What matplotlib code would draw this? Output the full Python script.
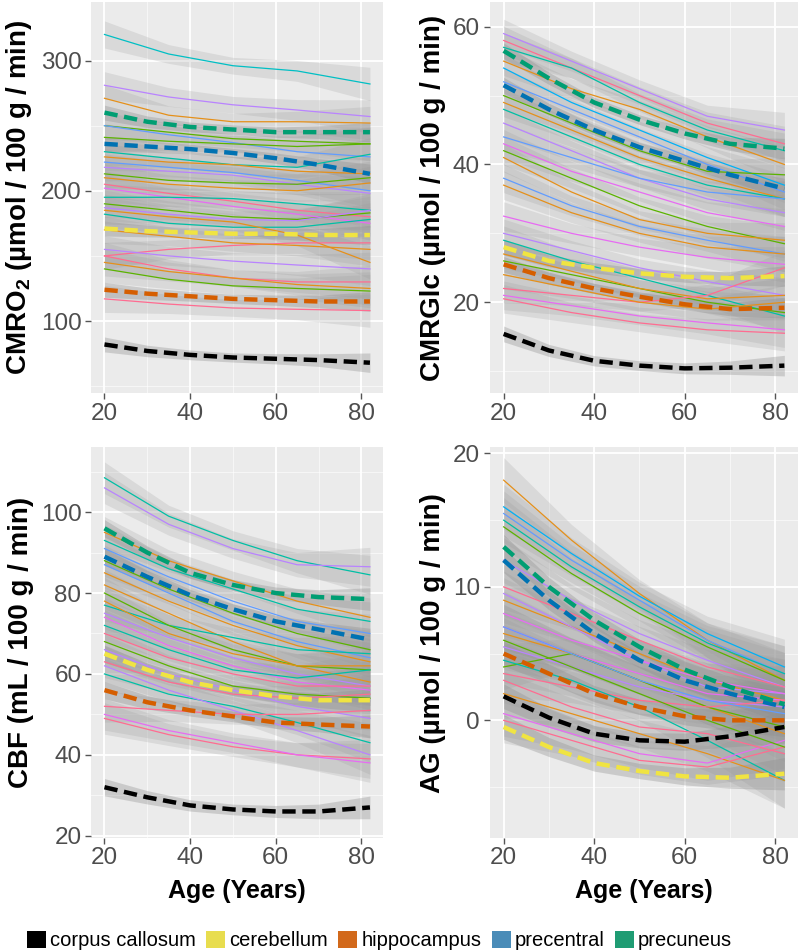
import numpy as np
import matplotlib
matplotlib.use("Agg")
import matplotlib.pyplot as plt
from matplotlib.patches import Patch
from matplotlib.ticker import MultipleLocator

plt.rcParams["font.family"] = ["Liberation Sans", "DejaVu Sans"]
plt.rcParams["mathtext.fontset"] = "custom"
plt.rcParams["mathtext.rm"] = "Liberation Sans"
plt.rcParams["mathtext.bf"] = "Liberation Sans:bold"

# ─── DATA ─────────────────────────────────────────────────────────────────────
REGIONS = ["corpus callosum", "cerebellum", "hippocampus", "precentral", "precuneus"]
AGES_DASH = [20, 30, 40, 50, 60, 70, 82]
AGES_THIN = [20, 35, 50, 65, 82]

# highlighted regions (dashed), values at AGES_DASH
CMRO2_DASHED = {
    "corpus callosum": [82, 77, 74, 72, 71, 70, 68],
    "cerebellum": [171, 169, 168, 167, 167, 166, 166],
    "hippocampus": [124, 121, 119, 117, 116, 115, 115],
    "precentral": [236, 234, 232, 229, 225, 220, 213],
    "precuneus": [260, 253, 249, 247, 245, 245, 245],
}
CMRGLC_DASHED = {
    "corpus callosum": [15.4, 13.0, 11.5, 10.8, 10.4, 10.5, 10.8],
    "cerebellum": [28.0, 26.0, 25.0, 24.2, 23.7, 23.5, 23.8],
    "hippocampus": [25.5, 23.5, 22.0, 20.8, 19.7, 19.0, 19.2],
    "precentral": [51.5, 48.0, 45.0, 42.5, 40.5, 38.5, 36.5],
    "precuneus": [56.5, 52.5, 49.0, 46.5, 44.5, 43.0, 42.3],
}
CBF_DASHED = {
    "corpus callosum": [32, 29.5, 27.5, 26.5, 26, 26, 27],
    "cerebellum": [65, 61, 58, 56, 54.5, 53.5, 53.5],
    "hippocampus": [56, 53, 51, 49.5, 48, 47.5, 47],
    "precentral": [89, 84, 79.5, 76, 73, 71, 68.5],
    "precuneus": [96, 90, 85, 82, 80, 79, 78.5],
}
AG_DASHED = {
    "corpus callosum": [1.8, 0.2, -1.0, -1.5, -1.6, -1.2, -0.5],
    "cerebellum": [-0.5, -2.0, -3.2, -3.8, -4.2, -4.3, -4.0],
    "hippocampus": [5.0, 3.5, 2.0, 1.0, 0.3, 0.0, 0.0],
    "precentral": [12.0, 9.0, 6.5, 4.5, 3.0, 2.0, 1.0],
    "precuneus": [13.0, 10.0, 7.5, 5.5, 3.8, 2.5, 1.2],
}

# other regions (thin), values at AGES_THIN
CMRO2_THIN = [
    [320, 305, 296, 292, 282], [281, 272, 266, 262, 257], [271, 258, 253, 253, 252],
    [250, 245, 240, 238, 236], [250, 243, 237, 230, 226], [241, 238, 236, 234, 236],
    [230, 225, 220, 218, 228], [226, 222, 220, 215, 213], [222, 218, 214, 208, 200],
    [218, 215, 212, 205, 198], [213, 208, 206, 205, 210], [210, 205, 202, 200, 206],
    [205, 198, 192, 185, 180], [202, 195, 188, 182, 175], [195, 195, 194, 190, 185],
    [190, 185, 180, 178, 183], [187, 182, 178, 177, 185], [182, 175, 172, 172, 178],
    [185, 180, 176, 166, 145], [150, 155, 158, 160, 160], [155, 150, 146, 143, 140],
    [150, 140, 133, 130, 130], [145, 138, 133, 128, 125], [140, 132, 127, 125, 123],
    [117, 113, 110, 109, 108], [170, 165, 160, 158, 155],
]
CMRO2_THIN_COLORS = "cpogbgtobpgoPmtgptoPpPogPo"

CMRGLC_THIN = [
    [59, 55, 51, 47, 45], [58, 54, 50, 46, 43], [57, 54, 49, 45, 42],
    [55, 51, 48, 44, 40], [54, 49, 45, 41, 37], [52, 48, 44, 40, 36],
    [50, 46, 42, 39, 38.5], [49, 45, 41, 38, 35], [48, 44, 40, 37, 35],
    [46, 42, 38, 35, 33], [44, 41, 38, 36, 35], [43, 39, 36, 33, 31],
    [42, 38, 34, 31, 28.5], [41, 36, 32, 30, 29], [38, 34, 31, 29, 27],
    [37, 33, 30, 28, 27], [32.5, 30, 28, 26.5, 25.5], [30, 27.5, 25, 23, 21],
    [29, 26, 23.5, 21, 18], [26, 24, 22, 20, 18.5], [27, 24.5, 22, 20.5, 21],
    [22, 21, 20, 21, 25], [21, 19.5, 18, 17, 16], [20.5, 18.5, 17, 16, 15.5],
    [24, 22, 20, 19, 20],
]
CMRGLC_THIN_COLORS = "pPtosbgotpbmgobomptgoPmPo"

CBF_THIN = [
    [108.5, 99, 93, 88, 84.5], [106, 97, 91, 87, 86.5], [95, 88, 83, 78, 74],
    [93, 86, 81, 76, 73], [91, 84, 78, 73, 70], [88, 81, 75, 70, 66],
    [85, 78, 72, 67, 63], [87, 80, 73, 68, 64], [82, 75, 68, 62, 58],
    [77, 72, 69, 66, 65], [80, 72, 66, 62, 61], [75, 69, 64, 60, 57],
    [74, 67, 62, 58, 56], [72, 66, 61, 59, 61], [70, 64, 60, 57, 57],
    [68, 62, 57, 55, 54], [66, 60, 56, 52, 49], [63, 58, 55, 54, 55],
    [60, 55, 52, 48, 43], [62, 56, 51, 46, 40], [52, 51, 50, 50, 51],
    [49, 45, 42, 40, 39], [50, 46, 43, 40, 38], [78, 70, 65, 62, 62],
]
CBF_THIN_COLORS = "tpotbgobotgpmtPgpPtpPPmo"

AG_THIN = [
    [18, 13.5, 9.5, 6, 3], [16, 12.5, 9.3, 6.5, 4], [15.5, 12, 9, 6, 3.5],
    [15, 11.5, 8.5, 5.8, 3.5], [14.5, 11, 8, 5.5, 3], [12, 9, 6.5, 4.5, 2.5],
    [10, 8, 6, 4, 2.5], [9, 7, 5, 3, 1.5], [9.5, 7, 4.5, 2.5, 2],
    [8, 6, 4.5, 3, 2], [7, 5, 3.5, 2, 1.5], [6.5, 5, 3, 1, -1],
    [4, 5, 3, 1, -0.5], [5.5, 4, 2.5, 1.5, 1], [3.5, 2.5, 1.5, 1, 1.5],
    [4.5, 3, 1, -1.5, -4.5], [2, 0.5, -1, -2.5, -4.5], [0, -1.5, -3, -3.5, -2],
    [0.5, -1, -2.5, -3.2, -1.5], [7, 5, 3, 1.5, 0.5], [6, 4, 2, 0, -2],
    [3, 1, -0.5, -1, -2.5],
]
AG_THIN_COLORS = "osbtgpPopmmogpPtoPmbgP"

# approximate confidence-band half widths (units of each measure)
CMRO2_BAND = 8
CMRGLC_BAND = 1.6
CBF_BAND = 3.0
AG_BAND = 1.3
# ──────────────────────────────────────────────────────────────────────────────

DASH_COLORS = {
    "corpus callosum": "#000000",
    "cerebellum": "#F0E442",
    "hippocampus": "#D55E00",
    "precentral": "#0072B2",
    "precuneus": "#009E73",
}
LEGEND_COLORS = ["#000000", "#E8DD4E", "#D2691B", "#4A8CB8", "#1F9C73"]
HUE = {
    "P": "#FF6C91", "o": "#E5901A", "g": "#5BB300", "t": "#00BFA5",
    "c": "#00BFC4", "s": "#00B0F6", "b": "#619CFF", "p": "#B983FF",
    "m": "#E76BF3",
}
BAND_SHAPE_THIN = np.array([1.3, 0.9, 0.8, 1.0, 1.6])
BAND_SHAPE_DASH = np.array([1.3, 1.0, 0.85, 0.8, 0.9, 1.1, 1.7])


def style_axes(ax, ylim, ymajor, xlabel):
    ax.set_facecolor("#EBEBEB")
    ax.set_xlim(16.9, 85.1)
    ax.set_ylim(*ylim)
    ax.xaxis.set_major_locator(MultipleLocator(20))
    ax.xaxis.set_minor_locator(MultipleLocator(10))
    ax.yaxis.set_major_locator(MultipleLocator(ymajor))
    ax.yaxis.set_minor_locator(MultipleLocator(ymajor / 2))
    ax.grid(which="major", color="white", lw=1.3)
    ax.grid(which="minor", color="white", lw=0.6, alpha=0.7)
    ax.set_axisbelow(True)
    for s in ax.spines.values():
        s.set_visible(False)
    ax.tick_params(which="major", length=4, width=1, color="#555555",
                   labelsize=17.5, labelcolor="#4D4D4D", pad=3)
    ax.tick_params(which="minor", length=0)
    if xlabel:
        ax.set_xlabel("Age (Years)", fontsize=18, fontweight="bold", labelpad=7)


def draw_panel(ax, thin, thin_colors, dashed, band):
    for vals in thin:
        v = np.array(vals, dtype=float)
        w = band * BAND_SHAPE_THIN
        ax.fill_between(AGES_THIN, v - w, v + w, color="#9A9A9A", alpha=0.22, lw=0)
    for vals, c in zip(thin, thin_colors):
        ax.plot(AGES_THIN, vals, color=HUE[c], lw=0.9)
    for name in REGIONS:
        v = np.array(dashed[name], dtype=float)
        w = band * 0.55 * BAND_SHAPE_DASH
        ax.fill_between(AGES_DASH, v - w, v + w, color="#8F8F8F", alpha=0.35, lw=0)
    for name in REGIONS:
        ax.plot(AGES_DASH, dashed[name], color=DASH_COLORS[name], lw=3.2,
                ls=(0, (3, 1.5)), dash_capstyle="butt")


fig = plt.figure(figsize=(8, 9.52), dpi=100)
ax1 = fig.add_axes([0.114, 0.587, 0.365, 0.411])
ax2 = fig.add_axes([0.612, 0.587, 0.386, 0.411])
ax3 = fig.add_axes([0.114, 0.120, 0.365, 0.410])
ax4 = fig.add_axes([0.612, 0.120, 0.386, 0.410])

draw_panel(ax1, CMRO2_THIN, CMRO2_THIN_COLORS, CMRO2_DASHED, CMRO2_BAND)
draw_panel(ax2, CMRGLC_THIN, CMRGLC_THIN_COLORS, CMRGLC_DASHED, CMRGLC_BAND)
draw_panel(ax3, CBF_THIN, CBF_THIN_COLORS, CBF_DASHED, CBF_BAND)
draw_panel(ax4, AG_THIN, AG_THIN_COLORS, AG_DASHED, AG_BAND)

style_axes(ax1, (44.6, 345), 100, False)
style_axes(ax2, (6.8, 63.6), 20, False)
style_axes(ax3, (19.5, 116), 20, True)
style_axes(ax4, (-8.8, 20.45), 10, True)

lab = dict(fontsize=20, fontweight="bold")
ax1.set_ylabel(r"CMRO$_\mathbf{2}$ (µmol / 100 g / min)", labelpad=5, **lab)
ax2.set_ylabel("CMRGlc (µmol / 100 g / min)", labelpad=5, **lab)
ax3.set_ylabel("CBF (mL / 100 g / min)", labelpad=5, **lab)
ax4.set_ylabel("AG (µmol / 100 g / min)", labelpad=5, **lab)

handles = [Patch(facecolor=c, edgecolor="none") for c in LEGEND_COLORS]
fig.legend(handles, REGIONS, loc="center left", bbox_to_anchor=(0.034, 0.012),
           ncol=5, frameon=False, fontsize=14.5, handlelength=0.95, handleheight=0.95,
           handletextpad=0.2, columnspacing=0.5, borderaxespad=0, borderpad=0)

fig.savefig("out.png", dpi=100)
